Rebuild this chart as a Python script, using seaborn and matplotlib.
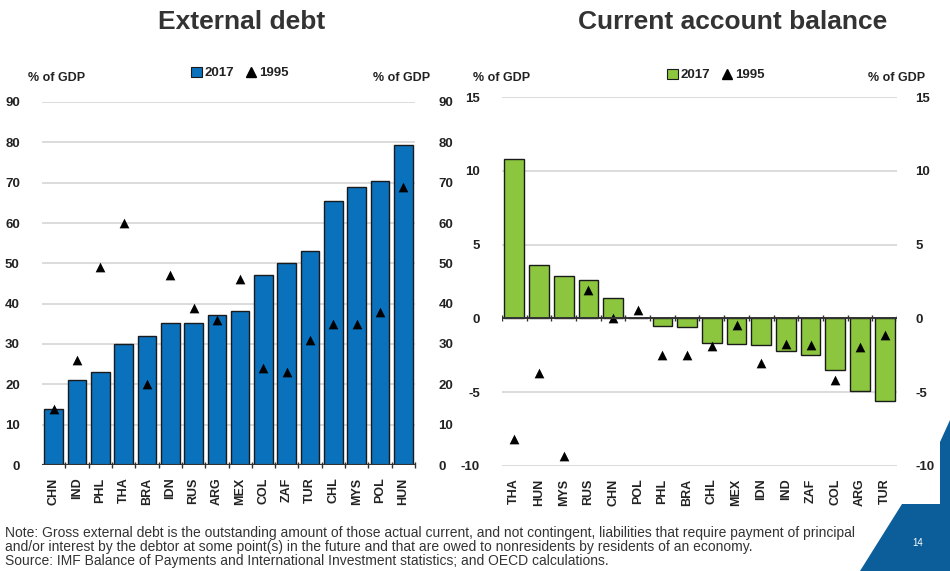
import numpy as np
import pandas as pd
import matplotlib
matplotlib.use("Agg")
import matplotlib.pyplot as plt
import seaborn as sns
from matplotlib.patches import Patch, Polygon
from matplotlib.lines import Line2D

# ---------------- data ----------------
debt_countries = ["CHN", "IND", "PHL", "THA", "BRA", "IDN", "RUS", "ARG",
                  "MEX", "COL", "ZAF", "TUR", "CHL", "MYS", "POL", "HUN"]
debt_2017 = [14, 21, 23, 30, 32, 35.3, 35.3, 37.2, 38.2, 47, 50, 53, 65.5, 69, 70.3, 79.3]
debt_1995 = [14, 26, 49, 60, 20, 47, 39, 36, 46, 24, 23, 31, 35, 35, 38, 69]

ca_countries = ["THA", "HUN", "MYS", "RUS", "CHN", "POL", "PHL", "BRA",
                "CHL", "MEX", "IDN", "IND", "ZAF", "COL", "ARG", "TUR"]
ca_2017 = [10.8, 3.6, 2.9, 2.6, 1.4, 0.05, -0.5, -0.55, -1.65, -1.75, -1.8,
           -2.2, -2.5, -3.5, -4.9, -5.6]
ca_1995 = [-8.2, -3.7, -9.3, 1.9, 0.0, 0.55, -2.5, -2.5, -1.9, -0.45, -3.0,
           -1.75, -1.8, -4.2, -1.95, -1.15]

left_ticks = [0, 10, 20, 30, 40, 50, 60, 70, 80, 90]
right_ticks = [-10, -5, 0, 5, 10, 15]

debt_df = pd.DataFrame({"country": debt_countries, "y2017": debt_2017, "y1995": debt_1995})
ca_df = pd.DataFrame({"country": ca_countries, "y2017": ca_2017, "y1995": ca_1995})

# ---------------- style ----------------
sns.set_theme(style="white")
plt.rcParams["font.family"] = ["Liberation Sans", "DejaVu Sans"]
plt.rcParams["axes.unicode_minus"] = False
TICKFONT = ["Liberation Sans", "DejaVu Sans"]

BLUE = "#0a72bd"
GREEN = "#8cc63f"
GRID = "#d9d9d9"
TXT = "#222222"

W, H = 950, 571
fig = plt.figure(figsize=(W / 100, H / 100), dpi=100)

def fx(px):
    return px / W

def fy(py):
    return 1 - py / H

ax1 = fig.add_axes([fx(42), fy(465), fx(415 - 42), (465 - 102) / H])
ax2 = fig.add_axes([fx(502), fy(466), fx(897 - 502), (466 - 97) / H])


def style_axis(ax, ticks, lo, hi, lpad, rpad):
    ax.set_ylim(lo, hi)
    ax.set_yticks(ticks)
    ax.set_xlim(-0.5, 15.5)
    tw = ax.twinx()
    tw.set_ylim(lo, hi)
    tw.set_yticks(ticks)
    tw.grid(False)
    for s in list(ax.spines.values()) + list(tw.spines.values()):
        s.set_visible(False)
    ax.grid(False)
    for t in ticks:
        ax.axhline(t, color=GRID, lw=1.3, zorder=0)
    ax.tick_params(axis="y", which="both", left=False, right=False,
                   labelleft=True, labelright=False, pad=lpad,
                   labelsize=9.5, colors=TXT)
    ax.tick_params(axis="x", which="major", bottom=False, top=False, pad=3,
                   labelsize=9, colors=TXT)
    tw.tick_params(axis="y", which="both", left=False, right=False,
                   labelleft=False, labelright=True, pad=rpad,
                   labelsize=9.5, colors=TXT)
    for lab in list(ax.get_yticklabels()) + list(tw.get_yticklabels()):
        lab.set_fontfamily(TICKFONT)
        lab.set_fontweight("bold")
    ax.set_xlabel("")
    ax.set_ylabel("")
    return tw


# ---------------- left chart: External debt ----------------
sns.barplot(data=debt_df, x="country", y="y2017", color=BLUE, width=0.8,
            edgecolor="#1a1a1a", linewidth=1.0, saturation=1, ax=ax1, zorder=2)
sns.stripplot(data=debt_df, x="country", y="y1995", color="black", marker="^",
              size=7, jitter=False, ax=ax1, zorder=3, linewidth=0)
style_axis(ax1, left_ticks, 0, 90, 10, 11)
ax1.axhline(0, color="#333333", lw=1.6, zorder=4)
ax1.set_xticks(np.arange(len(debt_countries)) + 0.5, minor=True)
ax1.tick_params(axis="x", which="minor", bottom=True, length=4, width=1.0,
                color="#333333", direction="inout")

# ---------------- right chart: Current account balance ----------------
sns.barplot(data=ca_df, x="country", y="y2017", color=GREEN, width=0.8,
            edgecolor="#1a1a1a", linewidth=1.0, saturation=1, ax=ax2, zorder=2)
sns.stripplot(data=ca_df, x="country", y="y1995", color="black", marker="^",
              size=7, jitter=False, ax=ax2, zorder=3, linewidth=0)
style_axis(ax2, right_ticks, -10, 15, 10, 7)
ax2.axhline(0, color="#333333", lw=1.4, zorder=4)
ax2.vlines(np.arange(len(ca_countries) + 1) - 0.5, -0.2, 0.2, color="#333333",
           lw=1.0, zorder=4)

for ax in (ax1, ax2):
    for lab in ax.get_xticklabels():
        lab.set_rotation(90)
        lab.set_fontfamily(TICKFONT)
        lab.set_fontweight("bold")
        lab.set_fontsize(9)

# ---------------- titles ----------------
fig.text(fx(242), fy(22), "External debt", ha="center", va="center",
         fontsize=19, fontweight="bold", color="#333333")
fig.text(fx(733), fy(22), "Current account balance", ha="center", va="center",
         fontsize=19, fontweight="bold", color="#333333")

# ---------------- unit labels ----------------
for x, ha in ((28, "left"), (430, "right"), (473, "left"), (925, "right")):
    fig.text(fx(x), fy(78), "% of GDP", ha=ha, va="center", fontsize=9,
             fontweight="bold", family=TICKFONT, color=TXT)

# ---------------- legends ----------------
def add_legend(color, cx_px, cy_px):
    handles = [Patch(facecolor=color, edgecolor="#1a1a1a", linewidth=0.8),
               Line2D([], [], marker="^", color="black", linestyle="", markersize=7)]
    leg = fig.legend(handles, ["2017", "1995"], loc="center",
                     bbox_to_anchor=(fx(cx_px), fy(cy_px)), ncol=2, frameon=False,
                     handlelength=0.8, handleheight=0.8, handletextpad=0.2,
                     columnspacing=0.9, prop={"family": TICKFONT, "weight": "bold",
                                              "size": 9.5})
    for t in leg.get_texts():
        t.set_color(TXT)

add_legend(BLUE, 240, 73)
add_legend(GREEN, 716, 75)

# ---------------- note ----------------
note = ("Note: Gross external debt is the outstanding amount of those actual current, and not contingent, "
        "liabilities that require payment of principal\n"
        "and/or interest by the debtor at some point(s) in the future and that are owed to nonresidents "
        "by residents of an economy.\n"
        "Source: IMF Balance of Payments and International Investment statistics; and OECD calculations.")
fig.text(fx(5), fy(526), note, ha="left", va="top", fontsize=10,
         color="#333333", linespacing=1.02)

# ---------------- decorative corner ----------------
corner = Polygon([(fx(950), fy(420)), (fx(940), fy(442)), (fx(940), fy(504)),
                  (fx(902), fy(504)), (fx(860), fy(571)), (fx(950), fy(571))],
                 closed=True, transform=fig.transFigure, facecolor="#0b5e99",
                 edgecolor="none", zorder=0)
fig.patches.append(corner)
fig.text(fx(918), fy(543), "14", ha="center", va="center", fontsize=7,
         color="white")

fig.savefig("out.png", dpi=100)
